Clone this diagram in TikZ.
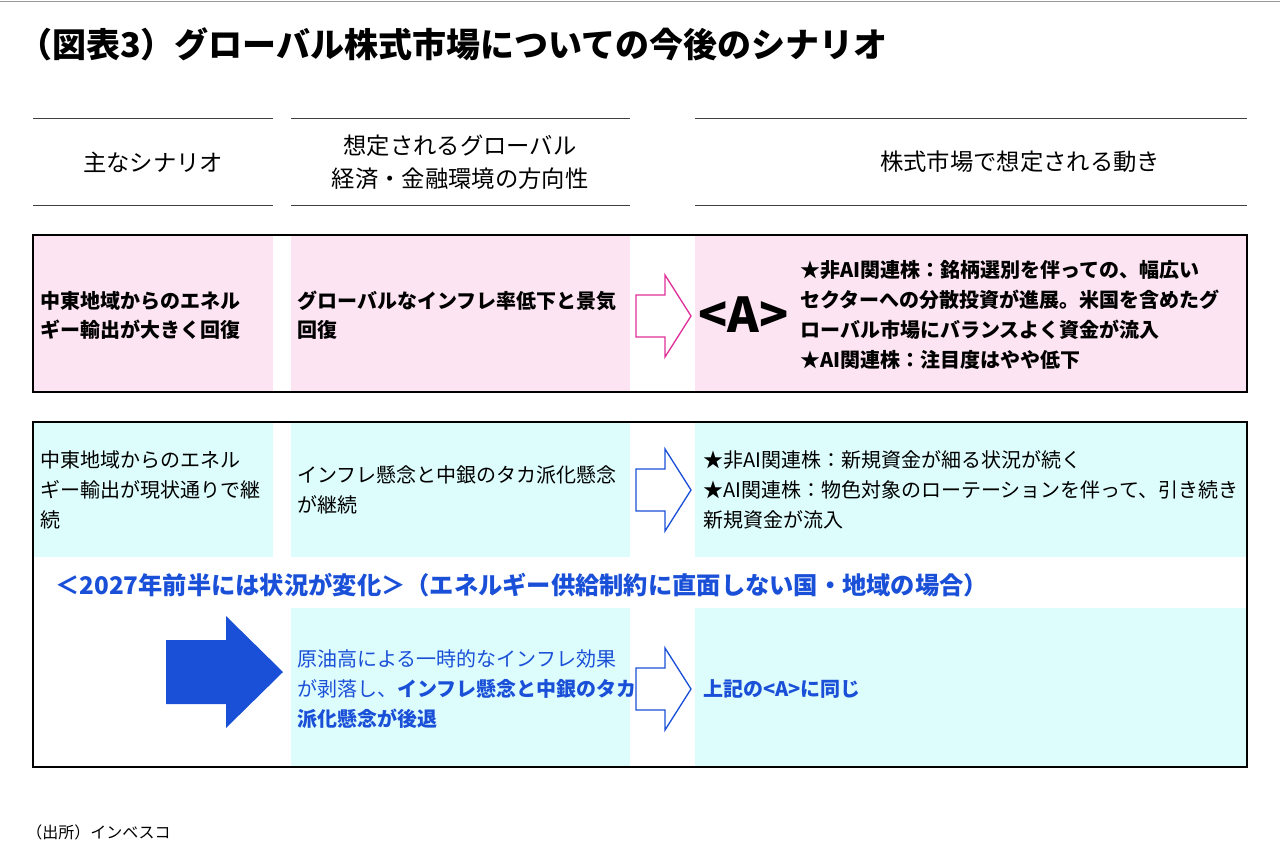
\documentclass[tikz,border=0pt]{standalone}
\usepackage{fontspec}
\setmainfont{Noto Sans CJK JP}
\usetikzlibrary{positioning}
\definecolor{rowpink}{HTML}{FDE4F2}
\definecolor{rowcyan}{HTML}{DDFCFC}
\definecolor{capblue}{HTML}{1A50D8}
\definecolor{arrmag}{HTML}{E0309A}
\tikzset{
  body/.style={anchor=west,align=left,inner sep=0pt,font=\fontsize{15}{21.9}\selectfont},
  head/.style={align=center,inner sep=0pt,font=\fontsize{17.5}{25}\selectfont},
  rule/.style={draw=black!75,line width=0.6pt},
  frame/.style={draw=black,line width=1.1pt},
}
\newcommand{\outarrow}[3]{% x, y-center, colour
  \draw[#3,line width=1pt,fill=white] (#1,#2-21) -- (#1+29,#2-21) -- (#1+29,#2-41) -- (#1+55,#2) -- (#1+29,#2+41) -- (#1+29,#2+21) -- (#1,#2+21) -- cycle;}
\begin{document}
\begin{tikzpicture}[x=0.75pt,y=0.75pt,yscale=-1,xscale=1]
\useasboundingbox (0,0) rectangle (1280,860);
\draw[black!40,line width=0.5pt] (0,1) -- (1280,1);

% title
\node[anchor=west,inner sep=0pt,font=\fontsize{25.5}{28}\selectfont\bfseries] (title) at (18,44) {（図表3）グローバル株式市場についての今後のシナリオ};

% header
\foreach \xa/\xb in {33/273,291/630,695/1247}{
  \draw[rule] (\xa,118) -- (\xb,118);
  \draw[rule] (\xa,205) -- (\xb,205);
}
\node[head] (h1) at (153,162) {主なシナリオ};
\node[head] (h2) at (460,162) {想定されるグローバル\\経済・金融環境の方向性};
\node[head] (h3) at (1020,162) {株式市場で想定される動き};

% scenario A
\foreach \xa/\xb in {33/273,291/630,695/1247}
  \fill[rowpink] (\xa,235) rectangle (\xb,392);
\draw[frame] (33,235) rectangle (1247,392);
\node[body,font=\fontsize{15}{21.75}\selectfont\bfseries] (a1) at (40,315) {中東地域からのエネル\\ギー輸出が大きく回復};
\node[body,font=\fontsize{15}{21.75}\selectfont\bfseries] (a2) at (297,315) {グローバルなインフレ率低下と景気\\回復};
\outarrow{636}{316}{arrmag}
\node[body,font=\fontsize{36}{40}\selectfont\bfseries] (aA) at (698,315) {<A>};
\node[body,font=\fontsize{15}{22.5}\selectfont\bfseries] (a3) at (800,315) {★非AI関連株：銘柄選別を伴っての、幅広い\\セクターへの分散投資が進展。米国を含めたグ\\ローバル市場にバランスよく資金が流入\\★AI関連株：注目度はやや低下};

% scenario B
\foreach \xa/\xb in {33/273,291/630,695/1247}
  \fill[rowcyan] (\xa,422) rectangle (\xb,557);
\foreach \xa/\xb in {291/630,695/1247}
  \fill[rowcyan] (\xa,608) rectangle (\xb,767);
\draw[frame] (33,422) rectangle (1247,767);
\node[body,font=\fontsize{15}{22.5}\selectfont] (b1) at (40,490) {中東地域からのエネル\\ギー輸出が現状通りで継\\続};
\node[body,font=\fontsize{15}{22.5}\selectfont] (b2) at (297,490) {インフレ懸念と中銀のタカ派化懸念\\が継続};
\outarrow{636}{490}{capblue}
\node[body,font=\fontsize{15}{22.5}\selectfont] (b3) at (703,490) {★非AI関連株：新規資金が細る状況が続く\\★AI関連株：物色対象のローテーションを伴って、引き続き\\新規資金が流入};

\node[body,text=capblue,font=\fontsize{18.2}{22}\selectfont\bfseries] (chg) at (55,585) {＜2027年前半には状況が変化＞（エネルギー供給制約に直面しない国・地域の場合）};
\fill[capblue] (166,640) -- (226,640) -- (226,616) -- (283,672) -- (226,728) -- (226,704) -- (166,704) -- cycle;
\node[body,text=capblue,font=\fontsize{15}{22.5}\selectfont] (c2) at (297,689) {原油高による一時的なインフレ効果\\が剥落し、\textbf{インフレ懸念と中銀のタカ}\\\textbf{派化懸念が後退}};
\outarrow{636}{689}{capblue}
\node[body,text=capblue,font=\fontsize{15}{22.5}\selectfont\bfseries] (c3) at (703,689) {上記の<A>に同じ};

% source
\node[anchor=west,inner sep=0pt,font=\fontsize{12}{14}\selectfont] (src) at (26,832) {（出所）インベスコ};
\end{tikzpicture}
\end{document}
